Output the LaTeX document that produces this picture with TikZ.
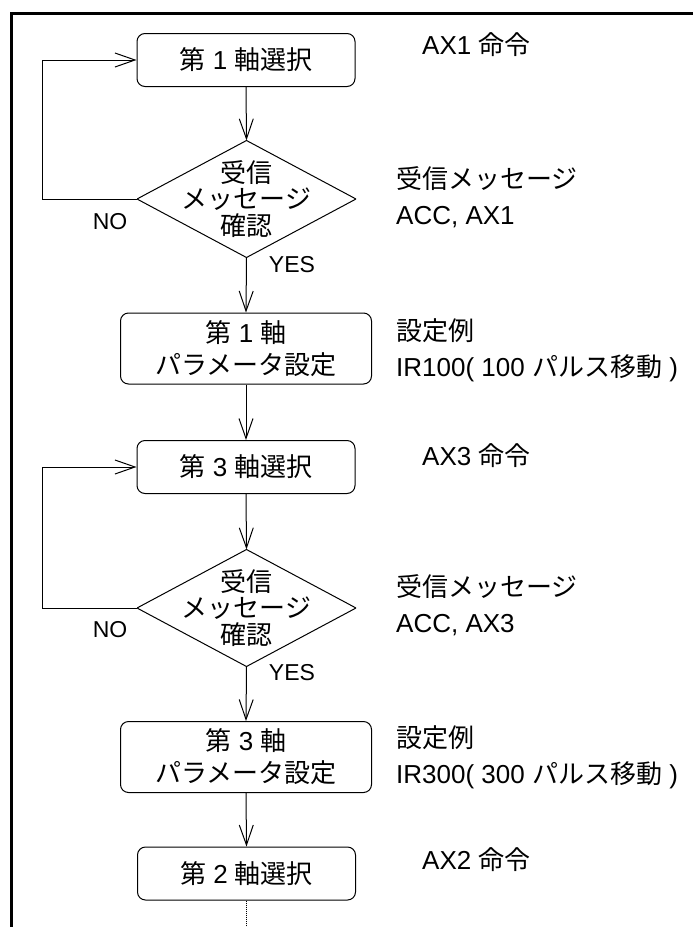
\documentclass[tikz,border=0pt]{standalone}
\usepackage{fontspec}
\setmainfont{Liberation Sans}
\newfontfamily\jpfont{Noto Sans CJK JP}
% switch to the Japanese font for CJK characters
\XeTeXinterchartokenstate=1
\newXeTeXintercharclass\JPclass
\newcount\jpcode
\jpcode="3000
\loop
  \XeTeXcharclass\jpcode=\JPclass
  \advance\jpcode by 1
\ifnum\jpcode<"A000 \repeat
\jpcode="FF00
\loop
  \XeTeXcharclass\jpcode=\JPclass
  \advance\jpcode by 1
\ifnum\jpcode<"FFF0 \repeat
\XeTeXinterchartoks 0 \JPclass = {\begingroup\jpfont}
\XeTeXinterchartoks 4095 \JPclass = {\begingroup\jpfont}
\XeTeXinterchartoks \JPclass 0 = {\endgroup}
\XeTeXinterchartoks \JPclass 4095 = {\endgroup}
\usepackage{tikz}
\usetikzlibrary{arrows.meta}

\begin{document}
\begin{tikzpicture}[x=1pt, y=-1pt,
    stepbox/.style={draw, line width=1pt, rounded corners=8pt, minimum width=218pt, minimum height=53pt, inner sep=0pt, align=center, font=\fontsize{26pt}{32pt}\selectfont},
    parbox/.style={stepbox, minimum width=251pt, minimum height=71pt},
    checkbox/.style={minimum width=219pt, minimum height=117pt, inner sep=0pt, align=center, font=\fontsize{26pt}{26.5pt}\selectfont,
        path picture={\draw[line width=1pt] (path picture bounding box.north) -- (path picture bounding box.east) -- (path picture bounding box.south) -- (path picture bounding box.west) -- cycle;}},
    note/.style={anchor=west, align=left, inner sep=0pt, font=\fontsize{26pt}{36pt}\selectfont},
    answer/.style={inner sep=0pt, font=\fontsize{23pt}{23pt}\selectfont},
    flow/.style={line width=1pt, -{Straight Barb[length=20pt, width=14pt, line width=1pt]}}
]
\useasboundingbox (0,0) rectangle (693,927);
\draw[line width=3pt] (11.5,927) -- (11.5,13) -- (693,13);

% flow steps
\node[stepbox] (sel1) at (246,60) {第 1 軸選択};
\node[checkbox] (chk1) at (246.5,199) {受信\\メッセージ\\確認};
\node[parbox] (par1) at (246,348.5) {第 1 軸\\パラメータ設定};
\node[stepbox] (sel3) at (246,467) {第 3 軸選択};
\node[checkbox] (chk2) at (246.5,608) {受信\\メッセージ\\確認};
\node[parbox] (par3) at (246,757) {第 3 軸\\パラメータ設定};
\node[stepbox] (sel2) at (246.5,873.5) {第 2 軸選択};

% side notes
\node[note] (cmd1) at (422,45) {AX1 命令};
\node[note] (msg1) at (396,197) {受信メッセージ\\ACC, AX1};
\node[note] (ex1) at (396,350) {設定例\\IR100( 100 パルス移動 )};
\node[note] (cmd3) at (422,456) {AX3 命令};
\node[note] (msg3) at (396,605) {受信メッセージ\\ACC, AX3};
\node[note] (ex3) at (396,757) {設定例\\IR300( 300 パルス移動 )};
\node[note] (cmd2) at (422,860) {AX2 命令};

\node[answer] (no1) at (110,222) {NO};
\node[answer] (yes1) at (292,265) {YES};
\node[answer] (no2) at (110,630) {NO};
\node[answer] (yes2) at (292,673) {YES};

% connectors
\coordinate (rail) at (42,0);
\coordinate (tail) at (246.5,927);
\draw[flow] (sel1.south) -- (chk1.north);
\draw[flow] (chk1.south) -- (par1.north);
\draw[flow] (par1.south) -- (sel3.north);
\draw[flow] (sel3.south) -- (chk2.north);
\draw[flow] (chk2.south) -- (par3.north);
\draw[flow] (par3.south) -- (sel2.north);
\draw[flow] (chk1.west) -- (chk1.west -| rail) |- (sel1.west);
\draw[flow] (chk2.west) -- (chk2.west -| rail) |- (sel3.west);
\draw[line width=0.8pt, dash pattern=on 1pt off 1pt] (sel2.south) -- (sel2.south |- tail);
\end{tikzpicture}
\end{document}
